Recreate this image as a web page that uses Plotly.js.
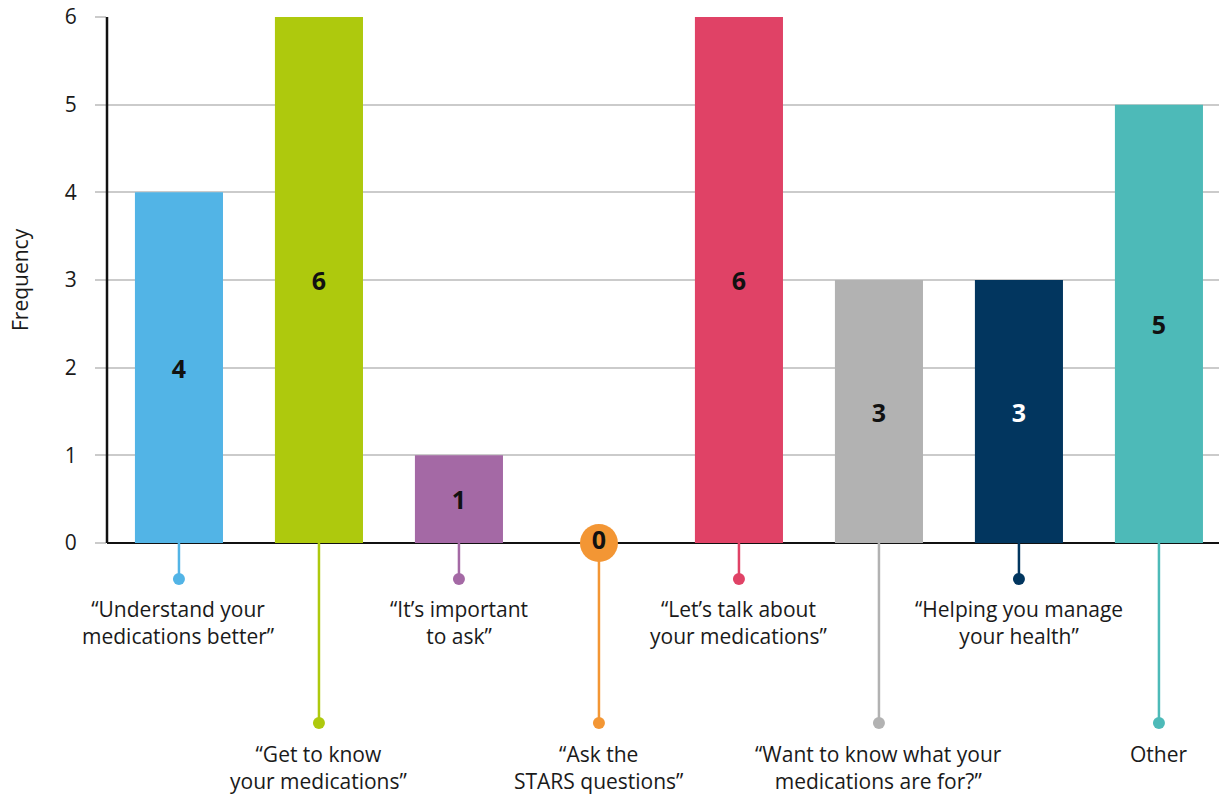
<!DOCTYPE html>
<html>
<head>
<meta charset="utf-8">
<script src="https://cdn.plot.ly/plotly-3.0.1.min.js"></script>
<style>
  html, body { margin: 0; padding: 0; background: #fff; }
  #chart { width: 1219px; height: 794px; }
</style>
</head>
<body>
<div id="chart"></div>
<script>
// ---- data ----
var categories = [
  "\u201cUnderstand your<br>medications better\u201d",
  "\u201cGet to know<br>your medications\u201d",
  "\u201cIt\u2019s important<br>to ask\u201d",
  "\u201cAsk the<br>STARS questions\u201d",
  "\u201cLet\u2019s talk about<br>your medications\u201d",
  "\u201cWant to know what your<br>medications are for?\u201d",
  "\u201cHelping you manage<br>your health\u201d",
  "Other"
];
var frequency = [4, 6, 1, 0, 6, 3, 3, 5];
var yTicks = [0, 1, 2, 3, 4, 5, 6];

// ---- styles ----
var barColors = ["#52b4e6", "#aec90d", "#a469a5", "#f39634", "#e04266", "#b2b2b2", "#02365f", "#4dbab8"];
var valueTextColors = ["#111111", "#111111", "#111111", "#111111", "#111111", "#111111", "#ffffff", "#111111"];

var FONT = "Open Sans, Noto Sans, sans-serif";
var idx = categories.map(function (_, i) { return i; });

// layout constants (axis units below the baseline)
var DOT_SHORT = -0.41, DOT_LONG = -2.053;
var LABEL_SHORT = -0.575, LABEL_LONG = -2.225;

var traces = [];

// connectors with dots
idx.forEach(function (i) {
  var dotY = (i % 2 === 0) ? DOT_SHORT : DOT_LONG;
  traces.push({
    type: "scatter", mode: "lines+markers",
    x: [i, i], y: [0, dotY],
    line: { color: barColors[i], width: 2.5 },
    marker: { color: barColors[i], size: [0, 12], opacity: 1, line: { width: 0 } },
    hoverinfo: "skip", showlegend: false, cliponaxis: false
  });
});

// bars
traces.push({
  type: "bar",
  x: idx, y: frequency,
  width: 0.629,
  marker: { color: barColors, line: { width: 0 } },
  text: frequency.map(function (v) { return v > 0 ? String(v) : ""; }),
  textposition: "inside",
  insidetextanchor: "middle",
  textangle: 0,
  constraintext: "none",
  textfont: { family: FONT, size: 25, weight: "bold", color: valueTextColors },
  hoverinfo: "x+y", showlegend: false
});

// zero-value markers
var zx = [], zy = [], zt = [], zc = [];
frequency.forEach(function (v, i) {
  if (v === 0) { zx.push(i); zy.push(v); zt.push(String(v)); zc.push(barColors[i]); }
});
traces.push({
  type: "scatter", mode: "markers+text",
  x: zx, y: zy, text: zt,
  textposition: "middle center",
  textfont: { family: FONT, size: 25, weight: "bold", color: "#111111" },
  marker: { color: zc, size: 38, line: { width: 0 } },
  cliponaxis: false, hoverinfo: "skip", showlegend: false
});

// category labels
var annotations = idx.map(function (i) {
  return {
    x: i, y: (i % 2 === 0) ? LABEL_SHORT : LABEL_LONG,
    xref: "x", yref: "y",
    text: categories[i],
    showarrow: false, xanchor: "center", yanchor: "top",
    align: "center",
    font: { family: FONT, size: 21, color: "#1a1a1a" }
  };
});
annotations.push({
  x: -87 / 1112, xref: "paper", y: 3, yref: "y",
  text: "Frequency", textangle: -90, showarrow: false,
  xanchor: "center", yanchor: "middle",
  font: { family: FONT, size: 21, color: "#1a1a1a" }
});

var layout = {
  width: 1219, height: 794,
  margin: { l: 107, r: 0, t: 17, b: 0, pad: 0 },
  paper_bgcolor: "#ffffff", plot_bgcolor: "#ffffff",
  font: { family: FONT, color: "#1a1a1a" },
  showlegend: false,
  xaxis: {
    range: [-0.514, 7.429],
    showgrid: false, zeroline: false, showline: false,
    showticklabels: false, ticks: "", fixedrange: true
  },
  yaxis: {
    range: [-2.863, 6],
    tickvals: yTicks,
    ticktext: yTicks.map(String),
    showgrid: true, gridcolor: "#cbcbcb", gridwidth: 2,
    ticks: "outside", ticklen: 11, tickcolor: "#cbcbcb", tickwidth: 2,
    ticklabelstandoff: 14,
    tickfont: { family: FONT, size: 21, color: "#1a1a1a" },
    zeroline: true, zerolinecolor: "#111111", zerolinewidth: 2,
    showline: false, fixedrange: true
  },
  shapes: [{
    type: "line", xref: "paper", yref: "y",
    x0: 0, x1: 0, y0: 0, y1: 6,
    line: { color: "#111111", width: 2.5 },
    layer: "above"
  }],
  annotations: annotations
};

Plotly.newPlot("chart", traces, layout, { displayModeBar: false, staticPlot: true });
</script>
</body>
</html>
